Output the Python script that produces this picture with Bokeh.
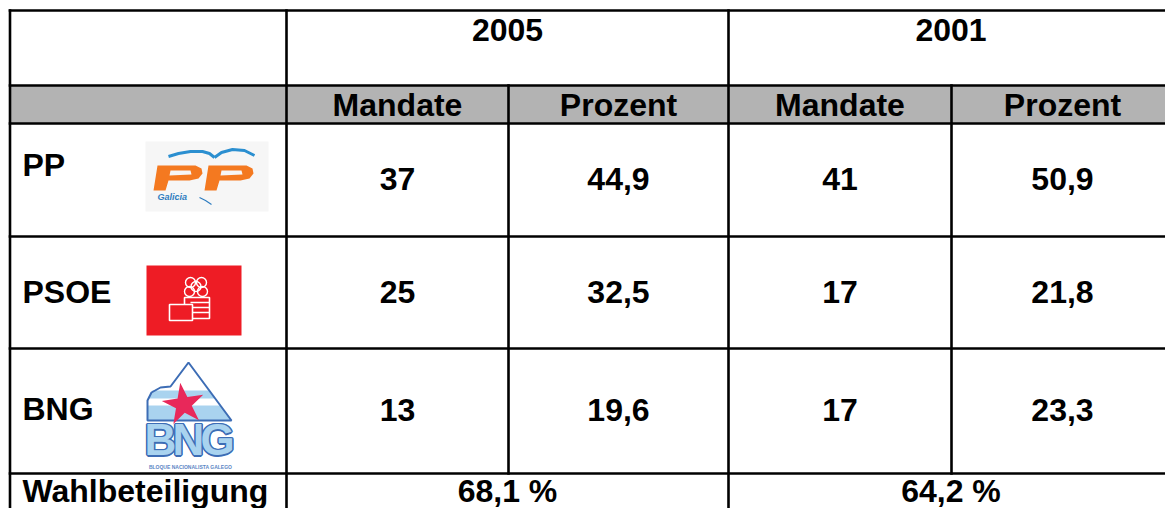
from bokeh.plotting import figure
from bokeh.models import Range1d, ColumnDataSource
from bokeh.core.properties import value
from bokeh.embed import file_html
from bokeh.resources import INLINE

# ---------------- data ----------------
years = ["2005", "2001"]
subheaders = ["Mandate", "Prozent", "Mandate", "Prozent"]
parties = ["PP", "PSOE", "BNG"]
mandate_2005 = [37, 25, 13]
prozent_2005 = [44.9, 32.5, 19.6]
mandate_2001 = [41, 17, 17]
prozent_2001 = [50.9, 21.8, 23.3]
turnout_label = "Wahlbeteiligung"
turnout = [68.1, 64.2]


def de(v):
    return f"{v:.1f}".replace(".", ",")


# ---------------- layout (pixel coordinates) ----------------
col_edges = [9.5, 286, 508, 728, 951, 1173]
row_edges = [10, 85, 123, 236, 348, 473, 540]
FONT = value("Liberation Sans")
FS = "32px"

p = figure(width=1165, height=508, x_range=Range1d(0, 1165), y_range=Range1d(508, 0),
           output_backend="svg", toolbar_location=None, min_border=0,
           x_axis_type=None, y_axis_type=None)
p.grid.visible = False
p.outline_line_color = None
p.background_fill_color = "white"
p.border_fill_color = "white"

# gray sub-header band
p.quad(left=[col_edges[0]], right=[col_edges[-1]], top=[row_edges[1]], bottom=[row_edges[2]],
       fill_color="#b3b3b3", line_color=None)

# ---------------- logos ----------------
# PP logo
p.quad(left=[145], right=[268], top=[141], bottom=[211], fill_color="#f6f6f6", line_color=None)
p.line([168, 178, 190, 202, 209, 214], [156, 153, 151, 151, 153, 157], line_color="#2b8fd0", line_width=3)
p.line([214, 221, 232, 244, 254], [157, 152, 149, 150, 155], line_color="#2b8fd0", line_width=3)

ox = [0, 4, 42, 48, 49, 45, 36, 15, 12]
oy = [25, 0, 0, 3, 8, 13, 15, 15, 25]
hx = [17, 37, 38, 16]
hy = [5, 5, 9, 10]
pxs, pys = [], []
for x0 in (153, 204):
    pxs.append([[[x0 + v for v in ox], [x0 + v for v in hx]]])
    pys.append([[[165 + v for v in oy], [165 + v for v in hy]]])
p.multi_polygons(xs=pxs, ys=pys, fill_color="#f47920", line_color=None)
p.text([157], [196], text=["Galicia"], text_font=FONT, text_font_style="bold italic",
       text_font_size="9px", text_color="#2f7dc0", text_baseline="middle")
p.line([199, 205, 211], [197, 200, 204], line_color="#2f7dc0", line_width=1.2)

# PSOE logo
p.quad(left=[146], right=[241], top=[265], bottom=[335], fill_color="#ee1c25", line_color=None)
p.quad(left=[184], right=[209], top=[297], bottom=[318], fill_color=None, line_color="white", line_width=1.6)
p.segment(x0=[190, 190, 190], y0=[302, 307, 312], x1=[209, 209, 209], y1=[302, 307, 312],
          line_color="white", line_width=1.3)
p.scatter([190, 201, 189, 202, 195.5], [282, 282, 291, 291, 286], marker="circle", size=10,
          fill_color=None, line_color="white", line_width=1.4)
p.quad(left=[169], right=[192], top=[304], bottom=[320], fill_color="#ee1c25", line_color="white", line_width=1.6)

# BNG logo
mx = [147, 147, 151, 160, 170, 188, 231]
my = [420, 400, 392, 387, 386, 362, 420]
p.patch(mx, my, fill_color="white", line_color=None)
p.patch([152, 208.7, 214.7, 147], [390, 390, 398, 398], fill_color="#a9d3ef", line_color=None)
p.patch([147, 219.9, 231, 147], [405, 405, 420, 420], fill_color="#a9d3ef", line_color=None)
p.patch(mx, my, fill_color=None, line_color="#3d6db5", line_width=2)
p.scatter([183], [404], marker="star", size=44, fill_color="#e8285a", line_color=None, angle=0.15)
bng_x = [160, 188, 217]
bng_t = ["B", "N", "G"]
for dx, dy in [(-1.5, 0), (1.5, 0), (0, -1.5), (0, 1.5), (-1, -1), (1, 1), (-1, 1), (1, -1)]:
    p.text([x + dx for x in bng_x], [439 + dy] * 3, text=bng_t, text_font=FONT, text_font_style="bold",
           text_font_size="44px", text_color="#3d6db5", text_align="center", text_baseline="middle")
p.text(bng_x, [439] * 3, text=bng_t, text_font=FONT, text_font_style="bold",
       text_font_size="44px", text_color="#a9d3ef", text_align="center", text_baseline="middle")
p.text([190], [466], text=["BLOQUE NACIONALISTA GALEGO"], text_font=FONT, text_font_style="bold",
       text_font_size="5px", text_color="#5b86c5", text_align="center", text_baseline="middle")

# ---------------- texts ----------------
col_c = [(col_edges[i] + col_edges[i + 1]) / 2 for i in range(1, 5)]
year_x = [(col_edges[1] + col_edges[3]) / 2, (col_edges[3] + col_edges[5]) / 2]

tx, ty, tt, ta = [], [], [], []
for x, y in zip(year_x, years):
    tx.append(x); ty.append(29); tt.append(y); ta.append("center")
for x, s in zip(col_c, subheaders):
    tx.append(x); ty.append(104); tt.append(s); ta.append("center")

name_c = [164, 291, 408]
for i, party in enumerate(parties):
    tx.append(22); ty.append(name_c[i]); tt.append(party); ta.append("left")
    yc = (row_edges[i + 2] + row_edges[i + 3]) / 2 - 1
    vals = [str(mandate_2005[i]), de(prozent_2005[i]), str(mandate_2001[i]), de(prozent_2001[i])]
    for x, v in zip(col_c, vals):
        tx.append(x); ty.append(yc); tt.append(v); ta.append("center")

tx.append(22); ty.append(490); tt.append(turnout_label); ta.append("left")
for x, v in zip(year_x, turnout):
    tx.append(x); ty.append(490); tt.append(de(v) + " %"); ta.append("center")

src = ColumnDataSource(dict(x=tx, y=ty, t=tt, a=ta))
p.text("x", "y", text="t", text_align="a", source=src, text_font=FONT, text_font_style="bold",
       text_font_size=FS, text_color="black", text_baseline="middle")

# ---------------- grid lines ----------------
L, R = col_edges[0], col_edges[-1]
hx0, hy0, hx1, hy1 = [], [], [], []
for y in row_edges[:6]:
    hx0.append(L); hx1.append(R); hy0.append(y); hy1.append(y)
for x in (col_edges[0], col_edges[1], col_edges[3]):
    hx0.append(x); hx1.append(x); hy0.append(row_edges[0]); hy1.append(row_edges[-1])
for x in (col_edges[2], col_edges[4]):
    hx0.append(x); hx1.append(x); hy0.append(row_edges[1]); hy1.append(row_edges[5])
p.segment(x0=hx0, y0=hy0, x1=hx1, y1=hy1, line_color="black", line_width=2.6, line_cap="square")

open("out.html", "w").write(file_html(p, INLINE))
